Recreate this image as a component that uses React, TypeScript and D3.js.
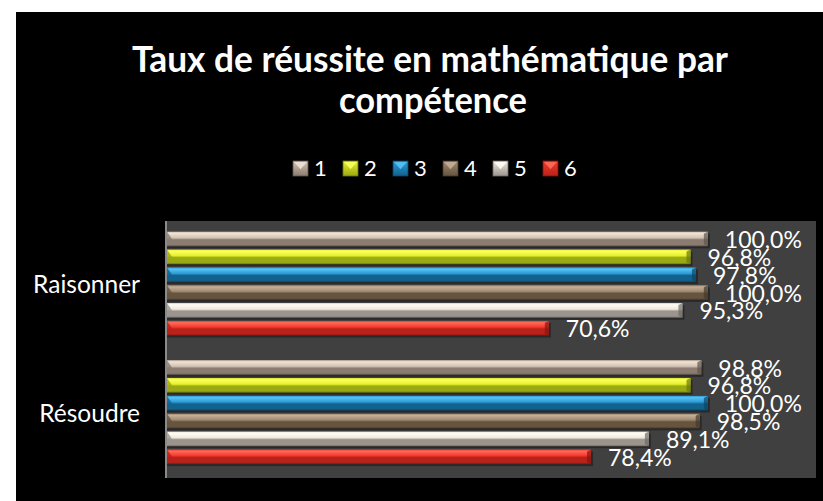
import React from "react";
import * as d3 from "d3";

const categories = ["Raisonner", "Résoudre"];
const seriesNames = ["1", "2", "3", "4", "5", "6"];
const raisonner = [1.0, 0.968, 0.978, 1.0, 0.953, 0.706];
const resoudre = [0.988, 0.968, 1.0, 0.985, 0.891, 0.784];
const values = [raisonner, resoudre];

const palettes = [
  { top: "#efe2d4", mid: "#d2c2b2", low: "#8a7c70", dark: "#5e544c" },
  { top: "#fbff60", mid: "#e6f02a", low: "#9aaa14", dark: "#6a760a" },
  { top: "#58c2f4", mid: "#2c9ad6", low: "#12628e", dark: "#0a4466" },
  { top: "#c4ae96", mid: "#a08a72", low: "#66543f", dark: "#46382a" },
  { top: "#fffdf6", mid: "#efe8de", low: "#9c958e", dark: "#6e6a66" },
  { top: "#ff6a5a", mid: "#f23a2c", low: "#b8221a", dark: "#86140e" },
];

const W = 823;
const H = 501;
const FONT = "Lato, 'Open Sans', sans-serif";

export default function App() {
  const plot = { x0: 166, x1: 816, y0: 221, y1: 478 };
  const x = d3.scaleLinear().domain([0, 1.2]).range([plot.x0 + 1, plot.x1]);
  const yCat = d3.scaleBand<string>().domain(categories).range([plot.y0, plot.y1]).padding(0);
  const ySer = d3
    .scaleBand<string>()
    .domain(seriesNames)
    .range([0, yCat.bandwidth()])
    .paddingInner(0)
    .paddingOuter(0.6);
  const step = ySer.step();
  const barH = step * 0.82;
  const fmt = (v: number) => (v * 100).toFixed(1).replace(".", ",") + "%";

  return (
    <svg width={W} height={H} style={{ position: "absolute", left: 0, top: 0, display: "block" }}>
      <defs>
        {palettes.map((p, i) => (
          <linearGradient key={i} id={`g${i}`} x1="0" y1="0" x2="0" y2="1">
            <stop offset="0" stopColor={p.mid} />
            <stop offset="0.12" stopColor={p.top} />
            <stop offset="0.42" stopColor={p.mid} />
            <stop offset="0.55" stopColor={p.low} />
            <stop offset="0.88" stopColor={p.low} />
            <stop offset="1" stopColor={p.dark} />
          </linearGradient>
        ))}
        {palettes.map((p, i) => (
          <linearGradient key={"l" + i} id={`lg${i}`} x1="0" y1="0" x2="0" y2="1">
            <stop offset="0" stopColor={p.mid} />
            <stop offset="1" stopColor={p.low} />
          </linearGradient>
        ))}
      </defs>
      <rect x={0} y={0} width={W} height={H} fill="#ffffff" />
      <rect x={16} y={12} width={W - 16} height={H - 12} fill="#000000" />
      <text
        x={430}
        y={72}
        textAnchor="middle"
        fill="#ffffff"
        fontFamily={FONT}
        fontWeight={700}
        fontSize={37}
        textLength={596}
        lengthAdjust="spacingAndGlyphs"
      >
        Taux de réussite en mathématique par
      </text>
      <text
        x={433}
        y={113}
        textAnchor="middle"
        fill="#ffffff"
        fontFamily={FONT}
        fontWeight={700}
        fontSize={37}
        textLength={188}
        lengthAdjust="spacingAndGlyphs"
      >
        compétence
      </text>

      {seriesNames.map((s, i) => {
        const lx = 293 + i * 50;
        const ly = 161;
        const sz = 15;
        const p = palettes[i];
        return (
          <g key={s}>
            <rect x={lx} y={ly} width={sz} height={sz} fill={`url(#lg${i})`} />
            <polygon
              points={`${lx + 1},${ly + 1} ${lx + sz - 1},${ly + 1} ${lx + sz / 2},${ly + sz * 0.55}`}
              fill={p.top}
              opacity={0.9}
            />
            <rect x={lx} y={ly} width={sz} height={sz} fill="none" stroke={p.dark} strokeWidth={0.8} />
            <text x={lx + 21} y={ly + 15} fill="#ffffff" fontFamily={FONT} fontSize={22}>
              {s}
            </text>
          </g>
        );
      })}

      <rect x={plot.x0} y={plot.y0} width={plot.x1 - plot.x0} height={plot.y1 - plot.y0} fill="#404040" />

      {categories.map((c, ci) => {
        const by = yCat(c)!;
        return (
          <g key={c}>
            {seriesNames.map((s, si) => {
              const v = values[ci][si];
              const y0 = by + ySer(s)!;
              const xs = x(0);
              const xe = x(v);
              const p = palettes[si];
              return (
                <g key={s}>
                  <rect x={xs} y={y0 + 2} width={xe - xs + 2} height={barH} fill="#000" opacity={0.35} />
                  <rect x={xs} y={y0} width={xe - xs} height={barH} fill={`url(#g${si})`} />
                  <polygon
                    points={`${xs},${y0} ${xs + 5},${y0 + barH / 2} ${xs},${y0 + barH}`}
                    fill={p.low}
                    opacity={0.8}
                  />
                  <polygon
                    points={`${xe - 4},${y0 + 2} ${xe},${y0} ${xe},${y0 + barH} ${xe - 4},${y0 + barH - 2}`}
                    fill={p.dark}
                    opacity={0.7}
                  />
                  <text
                    x={xe + 17}
                    y={y0 + barH / 2 + 9}
                    fill="#ffffff"
                    fontFamily={FONT}
                    fontSize={23}
                  >
                    {fmt(v)}
                  </text>
                </g>
              );
            })}
            <text
              x={140}
              y={by + yCat.bandwidth() / 2 + 8}
              textAnchor="end"
              fill="#ffffff"
              fontFamily={FONT}
              fontSize={24.5}
            >
              {c}
            </text>
          </g>
        );
      })}
      <line x1={plot.x0} x2={plot.x0} y1={plot.y0} y2={plot.y1} stroke="#8a8a8a" strokeWidth={2} />
    </svg>
  );
}
